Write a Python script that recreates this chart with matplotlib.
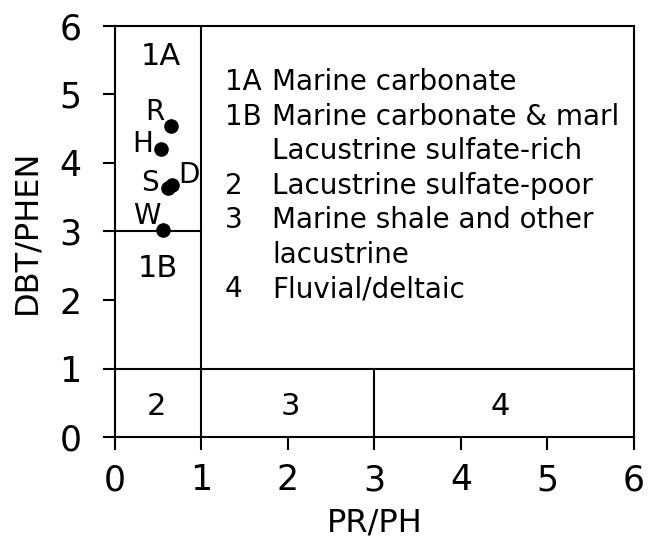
import numpy as np
import matplotlib.pyplot as plt

# --------------------------------------------------
# Data
# --------------------------------------------------

sample_names = ["R", "H", "S", "D", "W"]
pr_ph = [0.65, 0.53, 0.61, 0.66, 0.55]
dbt_phen = [4.54, 4.20, 3.64, 3.68, 3.02]

# label offsets (points) for each sample name
label_offsets = [(-12, 10), (-13, 4), (-12.5, 3.5), (12, 7), (-11, 10)]

zone_codes = ["1A", "1B", "", "2", "3", "", "4"]
zone_descriptions = [
    "Marine carbonate",
    "Marine carbonate & marl",
    "Lacustrine sulfate-rich",
    "Lacustrine sulfate-poor",
    "Marine shale and other",
    "lacustrine",
    "Fluvial/deltaic",
]

# --------------------------------------------------
# Figure
# --------------------------------------------------

fig = plt.figure(figsize=(6.49, 5.41), dpi=100)
ax = fig.add_axes([0.1772, 0.1922, 0.7995, 0.7598])

ax.set_xlim(0, 6)
ax.set_ylim(0, 6)
ax.set_xticks(range(7))
ax.set_yticks(range(7))
ax.tick_params(labelsize=25, width=1.5, length=9, direction="out")
ax.tick_params(axis="x", pad=10)
ax.tick_params(axis="y", pad=15)
for spine in ax.spines.values():
    spine.set_linewidth(1.5)

# zone boundaries
line_kw = dict(color="black", lw=1.5)
ax.plot([1, 1], [0, 6], **line_kw)
ax.plot([0, 1], [3, 3], **line_kw)
ax.plot([0, 6], [1, 1], **line_kw)
ax.plot([3, 3], [0, 1], **line_kw)

# zone labels
zone_kw = dict(fontsize=22, ha="center", va="center")
ax.text(0.53, 5.56, "1A", **zone_kw)
ax.text(0.5, 2.46, "1B", **zone_kw)
ax.text(0.48, 0.45, "2", **zone_kw)
ax.text(2.03, 0.45, "3", **zone_kw)
ax.text(4.46, 0.45, "4", **zone_kw)

# key
for i, (code, desc) in enumerate(zip(zone_codes, zone_descriptions)):
    y = 5.18 - i * 0.504
    ax.text(1.27, y, code, fontsize=20, ha="left", va="center")
    ax.text(1.82, y, desc, fontsize=20, ha="left", va="center")

# samples
ax.scatter(pr_ph, dbt_phen, s=90, color="black", zorder=3)
for name, x, y, off in zip(sample_names, pr_ph, dbt_phen, label_offsets):
    ax.annotate(name, (x, y), xytext=off, textcoords="offset points",
                fontsize=20, ha="center", va="center")

ax.set_xlabel("PR/PH", fontsize=23, labelpad=7)
ax.set_ylabel("DBT/PHEN", fontsize=23, labelpad=12)

plt.savefig("out.png", dpi=100)
